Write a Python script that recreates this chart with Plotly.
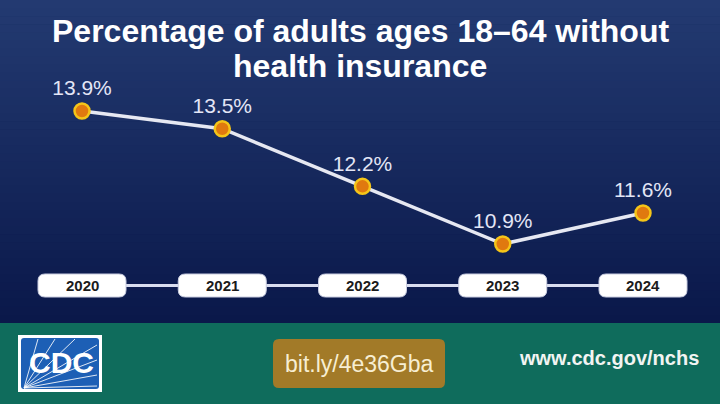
import plotly.graph_objects as go

years = [2020, 2021, 2022, 2023, 2024]
values = [13.9, 13.5, 12.2, 10.9, 11.6]
labels = ["13.9%", "13.5%", "12.2%", "10.9%", "11.6%"]
year_labels = ["2020", "2021", "2022", "2023", "2024"]
title_lines = ["Percentage of adults ages 18–64 without", "health insurance"]
link_text = "bit.ly/4e36Gba"
site_text = "www.cdc.gov/nchs"

W, H = 720, 404

def lerp(c1, c2, t):
    return "rgb(%d,%d,%d)" % tuple(round(a + (b - a) * t) for a, b in zip(c1, c2))

shapes = []
# gradient background (top navy to dark navy)
top_c, bot_c = (35, 58, 113), (10, 24, 74)
n = 40
band_top = 0
band_bot = 323
for i in range(n):
    y0 = band_top + (band_bot - band_top) * i / n
    y1 = band_top + (band_bot - band_top) * (i + 1) / n + 0.6
    shapes.append(dict(type="rect", xref="paper", yref="paper", x0=0, x1=1,
                       y0=1 - y1 / H, y1=1 - y0 / H, fillcolor=lerp(top_c, bot_c, i / (n - 1)),
                       line=dict(width=0), layer="below"))
# footer
shapes.append(dict(type="rect", xref="paper", yref="paper", x0=0, x1=1, y0=0, y1=1 - 323 / H,
                   fillcolor="#0f6c5c", line=dict(width=0), layer="below"))

# timeline connector line
pill_cy = 1 - 285.5 / H
shapes.append(dict(type="line", xref="x", yref="paper", x0=years[0], x1=years[-1], y0=pill_cy, y1=pill_cy,
                   line=dict(color="#d9ddf0", width=3), layer="below"))

# rounded pills behind year labels
half_w = 44 / 140.25
rx = 7 / 140.25
ph0, ph1 = 1 - 297 / H, 1 - 274 / H
ry = 7 / H
for yr in years:
    xa, xb = yr - half_w, yr + half_w
    path = (f"M {xa+rx},{ph1} L {xb-rx},{ph1} Q {xb},{ph1} {xb},{ph1-ry} L {xb},{ph0+ry} "
            f"Q {xb},{ph0} {xb-rx},{ph0} L {xa+rx},{ph0} Q {xa},{ph0} {xa},{ph0+ry} "
            f"L {xa},{ph1-ry} Q {xa},{ph1} {xa+rx},{ph1} Z")
    shapes.append(dict(type="path", xref="x", yref="paper", path=path,
                       fillcolor="#ffffff", line=dict(color="#c9cde0", width=1), layer="below"))

# bit.ly box (rounded)
def rrect_px(x0, y0, x1, y1, r):
    X = lambda v: v / W
    Y = lambda v: 1 - v / H
    return (f"M {X(x0+r)},{Y(y0)} L {X(x1-r)},{Y(y0)} Q {X(x1)},{Y(y0)} {X(x1)},{Y(y0+r)} "
            f"L {X(x1)},{Y(y1-r)} Q {X(x1)},{Y(y1)} {X(x1-r)},{Y(y1)} L {X(x0+r)},{Y(y1)} "
            f"Q {X(x0)},{Y(y1)} {X(x0)},{Y(y1-r)} L {X(x0)},{Y(y0+r)} Q {X(x0)},{Y(y0)} {X(x0+r)},{Y(y0)} Z")

shapes.append(dict(type="path", xref="paper", yref="paper", path=rrect_px(273, 339, 445, 388, 6),
                   fillcolor="#a27a28", line=dict(width=0)))

# CDC logo
shapes.append(dict(type="rect", xref="paper", yref="paper", x0=18 / W, x1=102 / W,
                   y0=1 - 392 / H, y1=1 - 335 / H, fillcolor="#ffffff", line=dict(width=0)))
shapes.append(dict(type="path", xref="paper", yref="paper",
                   path=rrect_px(21, 338, 99, 389, 3), fillcolor="#1d5fb5", line=dict(width=0)))
# rays from bottom-left
ox, oy = 24, 388
for ex, ey in [(38, 339), (55, 339), (75, 339), (97, 345), (97, 360), (97, 375), (97, 386)]:
    shapes.append(dict(type="line", xref="paper", yref="paper", x0=ox / W, y0=1 - oy / H,
                       x1=ex / W, y1=1 - ey / H, line=dict(color="rgba(255,255,255,0.85)", width=1)))

fig = go.Figure()
fig.add_trace(go.Scatter(
    x=years, y=values, mode="lines+markers+text",
    line=dict(color="#e6e8f2", width=3.5),
    marker=dict(size=15, color="#e0790f", line=dict(color="#f5c518", width=2.5)),
    text=labels, textposition="top center",
    textfont=dict(family="Liberation Sans, Arial, sans-serif", size=21, color="#e3e6f6"),
    cliponaxis=False, hoverinfo="skip", showlegend=False,
))

def ann(x, y, text, size, color, xref="paper"):
    return dict(x=x, y=y, xref=xref, yref="paper", text=text, showarrow=False,
                xanchor="center", yanchor="middle",
                font=dict(family="Liberation Sans, Arial", size=size, color=color))

annotations = []
for yr, lab in zip(years, year_labels):
    annotations.append(ann(yr, pill_cy, f"<b>{lab}</b>", 15, "#1b1b1b", xref="x"))
annotations.append(ann(0.5, 1 - 31 / H, f"<b>{title_lines[0]}</b>", 32, "#ffffff"))
annotations.append(ann(0.5, 1 - 66 / H, f"<b>{title_lines[1]}</b>", 32, "#ffffff"))
annotations.append(ann(359 / W, 1 - 364 / H, link_text, 23, "#f7eed2"))
annotations.append(ann(609 / W, 1 - 358 / H, f"<b>{site_text}</b>", 20, "#f2f4f2"))
annotations.append(ann(61 / W, 1 - 362 / H, "<b>CDC</b>", 30, "#ffffff"))

x0 = 2020 - 82 / 140.25
x1 = x0 + W / 140.25
ppu = 133 / 3.0
ytop = 13.9 + 111 / ppu
ybot = ytop - H / ppu

fig.update_layout(
    width=W, height=H, margin=dict(l=0, r=0, t=0, b=0),
    paper_bgcolor="#0b1a4c", plot_bgcolor="rgba(0,0,0,0)",
    xaxis=dict(range=[x0, x1], visible=False, fixedrange=True),
    yaxis=dict(range=[ybot, ytop], visible=False, fixedrange=True),
    shapes=shapes, annotations=annotations,
)

fig.write_html("out.html", config={"displayModeBar": False},
               post_script="document.body.style.margin='0';document.body.style.overflow='hidden';")
